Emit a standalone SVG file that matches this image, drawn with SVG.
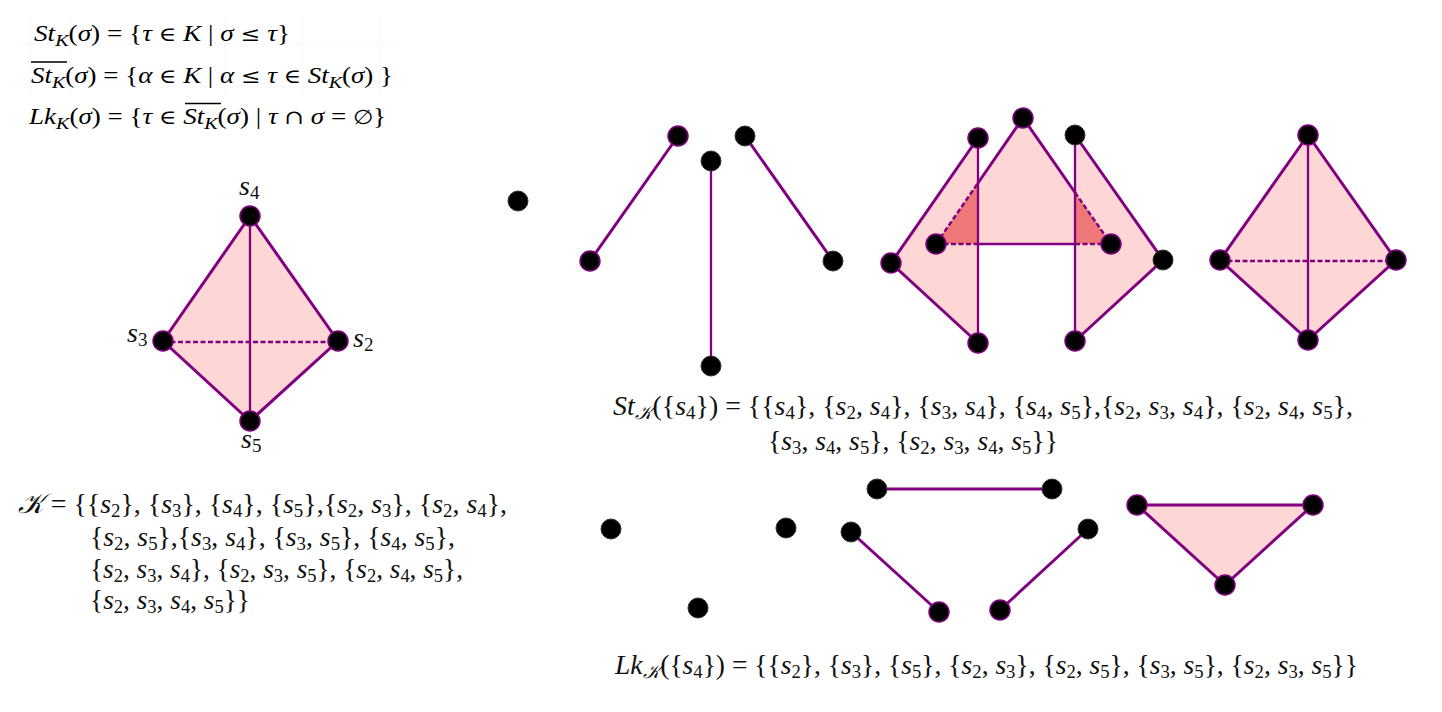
<svg xmlns="http://www.w3.org/2000/svg" width="1442" height="712" viewBox="0 0 1442 712">
<style>
.f{fill:#ffd6d6;stroke:none}
.d{fill:#ee7777;stroke:none}
.e{stroke:#800080;stroke-width:3;fill:none;stroke-linecap:round}
.t{stroke-width:2.300}
.h{stroke-width:2.500;stroke-dasharray:5 2.500;stroke-linecap:butt}
.n{fill:#000;stroke:#800080;stroke-width:1.500}
.g{fill:#000;stroke:#333;stroke-width:1}
.m{font-family:"Liberation Serif",serif;font-size:28px;fill:#111}
.c{font-family:"Liberation Serif",serif;font-size:23px;fill:#000}
.i{font-style:italic}
.s{font-size:19px}
.u{font-size:17px}
.o{font-family:"DejaVu Serif",serif;font-size:20px}
.b{stroke:#000;stroke-width:1.500}
.x{stroke:#f2f2f2;stroke-width:1;stroke-dasharray:1 1}
</style>
<g id="grid">
<path class="x" d="M20 44H396M20 87H396M30 15V96M70 15V96M225 15V96M302 15V96M379 15V96"/>
</g>
<g id="formulas">
<text class="c" x="34" y="41" textLength="256" lengthAdjust="spacingAndGlyphs"><tspan class="i">St</tspan><tspan class="i u" dy="5">K</tspan><tspan dy="-5">(</tspan><tspan class="i">σ</tspan>) = {<tspan class="i">τ</tspan> <tspan class="o">∈</tspan> <tspan class="i">K</tspan> | <tspan class="i">σ</tspan> <tspan class="o">≤</tspan> <tspan class="i">τ</tspan>}</text>
<text class="c" x="31" y="83" textLength="362" lengthAdjust="spacingAndGlyphs"><tspan class="i">St</tspan><tspan class="i u" dy="5">K</tspan><tspan dy="-5">(</tspan><tspan class="i">σ</tspan>) = {<tspan class="i">α</tspan> <tspan class="o">∈</tspan> <tspan class="i">K</tspan> | <tspan class="i">α</tspan> <tspan class="o">≤</tspan> <tspan class="i">τ</tspan> <tspan class="o">∈</tspan> <tspan class="i">St</tspan><tspan class="i u" dy="5">K</tspan><tspan dy="-5">(</tspan><tspan class="i">σ</tspan>) }</text>
<text class="c" x="29" y="124" textLength="357" lengthAdjust="spacingAndGlyphs"><tspan class="i">Lk</tspan><tspan class="i u" dy="5">K</tspan><tspan dy="-5">(</tspan><tspan class="i">σ</tspan>) = {<tspan class="i">τ</tspan> <tspan class="o">∈</tspan> <tspan class="i">St</tspan><tspan class="i u" dy="5">K</tspan><tspan dy="-5">(</tspan><tspan class="i">σ</tspan>) | <tspan class="i">τ</tspan> <tspan class="o">∩</tspan> <tspan class="i">σ</tspan> = <tspan class="o">∅</tspan>}</text>
<path class="b" d="M31 62H67M185 103.500H221"/>
</g>
<g id="faces">
<path class="f" d="M250 216L338 341L250 421L163 341Z"/>
<path class="f" d="M978 138L891 263L978 343Z"/>
<path class="f" d="M1023 118L936 244H1111Z"/>
<path class="f" d="M1075 135L1163 260L1075 341Z"/>
<path class="d" d="M936 244L978 183V244Z"/>
<path class="d" d="M1075 192.500L1111 244H1075Z"/>
<path class="f" d="M1308 135L1396 260L1308 340L1220 260Z"/>
<path class="f" d="M1137 505H1313L1225 585Z"/>
</g>
<g id="connectors">
<path class="e" d="M250 216L338 341L250 421L163 341Z"/>
<path class="e t" d="M250 216V421"/>
<path class="e h" d="M163 342H338"/>
<path class="e" d="M678 136L590 261"/>
<path class="e t" d="M711 161V366"/>
<path class="e" d="M745 136L833 261"/>
<path class="e" d="M978 138L891 263L978 343"/>
<path class="e t" d="M978 138V343"/>
<path class="e" d="M978 183L1023 118L1075 192.500"/>
<path class="e h" d="M936 244L978 183"/>
<path class="e h" d="M1075 192.500L1111 244"/>
<path class="e h" d="M936 244H978"/>
<path class="e t" d="M978 244H1075"/>
<path class="e h" d="M1075 244H1111"/>
<path class="e" d="M1075 135L1163 260L1075 341"/>
<path class="e t" d="M1075 135V341"/>
<path class="e" d="M1308 135L1396 260L1308 340L1220 260Z"/>
<path class="e t" d="M1308 135V340"/>
<path class="e h" d="M1220 261H1396"/>
<path class="e" d="M877 489H1052"/>
<path class="e" d="M851 532L939 612"/>
<path class="e" d="M1088 529L1000 610"/>
<path class="e" d="M1137 505H1313L1225 585Z"/>
</g>
<g id="node-s4"><circle class="n" cx="250" cy="216" r="10"/></g>
<g id="node-s3"><circle class="n" cx="163" cy="341" r="10"/></g>
<g id="node-s2"><circle class="n" cx="338" cy="341" r="10"/></g>
<g id="node-s5"><circle class="n" cx="250" cy="421" r="10"/></g>
<g id="node-a1"><circle class="g" cx="518" cy="201" r="10"/></g>
<g id="node-b1"><circle class="n" cx="678" cy="136" r="10"/></g>
<g id="node-b2"><circle class="n" cx="590" cy="261" r="10"/></g>
<g id="node-b3"><circle class="g" cx="711" cy="161" r="10"/></g>
<g id="node-b4"><circle class="g" cx="711" cy="366" r="10"/></g>
<g id="node-b5"><circle class="g" cx="745" cy="136" r="10"/></g>
<g id="node-b6"><circle class="g" cx="833" cy="261" r="10"/></g>
<g id="node-c1"><circle class="n" cx="978" cy="138" r="10"/></g>
<g id="node-c2"><circle class="n" cx="891" cy="263" r="10"/></g>
<g id="node-c3"><circle class="n" cx="978" cy="343" r="10"/></g>
<g id="node-c4"><circle class="n" cx="1023" cy="118" r="10"/></g>
<g id="node-c5"><circle class="n" cx="936" cy="244" r="10"/></g>
<g id="node-c6"><circle class="n" cx="1111" cy="244" r="10"/></g>
<g id="node-c7"><circle class="g" cx="1075" cy="135" r="10"/></g>
<g id="node-c8"><circle class="g" cx="1163" cy="260" r="10"/></g>
<g id="node-c9"><circle class="n" cx="1075" cy="341" r="10"/></g>
<g id="node-d1"><circle class="n" cx="1308" cy="135" r="10"/></g>
<g id="node-d2"><circle class="n" cx="1220" cy="260" r="10"/></g>
<g id="node-d3"><circle class="n" cx="1396" cy="260" r="10"/></g>
<g id="node-d4"><circle class="n" cx="1308" cy="340" r="10"/></g>
<g id="node-e1"><circle class="g" cx="611" cy="529" r="10"/></g>
<g id="node-e2"><circle class="g" cx="786" cy="528" r="10"/></g>
<g id="node-e3"><circle class="g" cx="698" cy="608" r="10"/></g>
<g id="node-f1"><circle class="g" cx="877" cy="489" r="10"/></g>
<g id="node-f2"><circle class="g" cx="1052" cy="489" r="10"/></g>
<g id="node-f3"><circle class="g" cx="851" cy="532" r="10"/></g>
<g id="node-f4"><circle class="n" cx="939" cy="612" r="10"/></g>
<g id="node-f5"><circle class="g" cx="1088" cy="529" r="10"/></g>
<g id="node-f6"><circle class="n" cx="1000" cy="610" r="10"/></g>
<g id="node-g1"><circle class="n" cx="1137" cy="505" r="10"/></g>
<g id="node-g2"><circle class="n" cx="1313" cy="505" r="10"/></g>
<g id="node-g3"><circle class="n" cx="1225" cy="585" r="10"/></g>
<g id="labels">
<text class="m" x="239" y="195"><tspan class="i">s</tspan><tspan class="s" dy="4">4</tspan></text>
<text class="m" x="127" y="342"><tspan class="i">s</tspan><tspan class="s" dy="4">3</tspan></text>
<text class="m" x="353" y="347"><tspan class="i">s</tspan><tspan class="s" dy="4">2</tspan></text>
<text class="m" x="241" y="448"><tspan class="i">s</tspan><tspan class="s" dy="4">5</tspan></text>
</g>
<g id="complex">
<text class="m" x="18" y="513" textLength="489" lengthAdjust="spacingAndGlyphs"><tspan class="i">𝒦</tspan> = {{<tspan class="i">s</tspan><tspan class="s" dy="4">2</tspan><tspan dy="-4">}, {</tspan><tspan class="i">s</tspan><tspan class="s" dy="4">3</tspan><tspan dy="-4">}, {</tspan><tspan class="i">s</tspan><tspan class="s" dy="4">4</tspan><tspan dy="-4">}, {</tspan><tspan class="i">s</tspan><tspan class="s" dy="4">5</tspan><tspan dy="-4">},{</tspan><tspan class="i">s</tspan><tspan class="s" dy="4">2</tspan><tspan dy="-4">, </tspan><tspan class="i">s</tspan><tspan class="s" dy="4">3</tspan><tspan dy="-4">}, {</tspan><tspan class="i">s</tspan><tspan class="s" dy="4">2</tspan><tspan dy="-4">, </tspan><tspan class="i">s</tspan><tspan class="s" dy="4">4</tspan><tspan dy="-4">},</tspan></text>
<text class="m" x="90" y="546" textLength="365" lengthAdjust="spacingAndGlyphs">{<tspan class="i">s</tspan><tspan class="s" dy="4">2</tspan><tspan dy="-4">, </tspan><tspan class="i">s</tspan><tspan class="s" dy="4">5</tspan><tspan dy="-4">},{</tspan><tspan class="i">s</tspan><tspan class="s" dy="4">3</tspan><tspan dy="-4">, </tspan><tspan class="i">s</tspan><tspan class="s" dy="4">4</tspan><tspan dy="-4">}, {</tspan><tspan class="i">s</tspan><tspan class="s" dy="4">3</tspan><tspan dy="-4">, </tspan><tspan class="i">s</tspan><tspan class="s" dy="4">5</tspan><tspan dy="-4">}, {</tspan><tspan class="i">s</tspan><tspan class="s" dy="4">4</tspan><tspan dy="-4">, </tspan><tspan class="i">s</tspan><tspan class="s" dy="4">5</tspan><tspan dy="-4">},</tspan></text>
<text class="m" x="90" y="578" textLength="373" lengthAdjust="spacingAndGlyphs">{<tspan class="i">s</tspan><tspan class="s" dy="4">2</tspan><tspan dy="-4">, </tspan><tspan class="i">s</tspan><tspan class="s" dy="4">3</tspan><tspan dy="-4">, </tspan><tspan class="i">s</tspan><tspan class="s" dy="4">4</tspan><tspan dy="-4">}, {</tspan><tspan class="i">s</tspan><tspan class="s" dy="4">2</tspan><tspan dy="-4">, </tspan><tspan class="i">s</tspan><tspan class="s" dy="4">3</tspan><tspan dy="-4">, </tspan><tspan class="i">s</tspan><tspan class="s" dy="4">5</tspan><tspan dy="-4">}, {</tspan><tspan class="i">s</tspan><tspan class="s" dy="4">2</tspan><tspan dy="-4">, </tspan><tspan class="i">s</tspan><tspan class="s" dy="4">4</tspan><tspan dy="-4">, </tspan><tspan class="i">s</tspan><tspan class="s" dy="4">5</tspan><tspan dy="-4">},</tspan></text>
<text class="m" x="90" y="609" textLength="160" lengthAdjust="spacingAndGlyphs">{<tspan class="i">s</tspan><tspan class="s" dy="4">2</tspan><tspan dy="-4">, </tspan><tspan class="i">s</tspan><tspan class="s" dy="4">3</tspan><tspan dy="-4">, </tspan><tspan class="i">s</tspan><tspan class="s" dy="4">4</tspan><tspan dy="-4">, </tspan><tspan class="i">s</tspan><tspan class="s" dy="4">5</tspan><tspan dy="-4">}}</tspan></text>
</g>
<g id="star">
<text class="m" x="613" y="415" textLength="740" lengthAdjust="spacingAndGlyphs"><tspan class="i">St</tspan><tspan class="i s" dy="4">𝒦</tspan><tspan dy="-4">({</tspan><tspan class="i">s</tspan><tspan class="s" dy="4">4</tspan><tspan dy="-4">}) = {{</tspan><tspan class="i">s</tspan><tspan class="s" dy="4">4</tspan><tspan dy="-4">}, {</tspan><tspan class="i">s</tspan><tspan class="s" dy="4">2</tspan><tspan dy="-4">, </tspan><tspan class="i">s</tspan><tspan class="s" dy="4">4</tspan><tspan dy="-4">}, {</tspan><tspan class="i">s</tspan><tspan class="s" dy="4">3</tspan><tspan dy="-4">, </tspan><tspan class="i">s</tspan><tspan class="s" dy="4">4</tspan><tspan dy="-4">}, {</tspan><tspan class="i">s</tspan><tspan class="s" dy="4">4</tspan><tspan dy="-4">, </tspan><tspan class="i">s</tspan><tspan class="s" dy="4">5</tspan><tspan dy="-4">},{</tspan><tspan class="i">s</tspan><tspan class="s" dy="4">2</tspan><tspan dy="-4">, </tspan><tspan class="i">s</tspan><tspan class="s" dy="4">3</tspan><tspan dy="-4">, </tspan><tspan class="i">s</tspan><tspan class="s" dy="4">4</tspan><tspan dy="-4">}, {</tspan><tspan class="i">s</tspan><tspan class="s" dy="4">2</tspan><tspan dy="-4">, </tspan><tspan class="i">s</tspan><tspan class="s" dy="4">4</tspan><tspan dy="-4">, </tspan><tspan class="i">s</tspan><tspan class="s" dy="4">5</tspan><tspan dy="-4">},</tspan></text>
<text class="m" x="768" y="450" textLength="290" lengthAdjust="spacingAndGlyphs">{<tspan class="i">s</tspan><tspan class="s" dy="4">3</tspan><tspan dy="-4">, </tspan><tspan class="i">s</tspan><tspan class="s" dy="4">4</tspan><tspan dy="-4">, </tspan><tspan class="i">s</tspan><tspan class="s" dy="4">5</tspan><tspan dy="-4">}, {</tspan><tspan class="i">s</tspan><tspan class="s" dy="4">2</tspan><tspan dy="-4">, </tspan><tspan class="i">s</tspan><tspan class="s" dy="4">3</tspan><tspan dy="-4">, </tspan><tspan class="i">s</tspan><tspan class="s" dy="4">4</tspan><tspan dy="-4">, </tspan><tspan class="i">s</tspan><tspan class="s" dy="4">5</tspan><tspan dy="-4">}}</tspan></text>
</g>
<g id="link">
<text class="m" x="615" y="674" textLength="743" lengthAdjust="spacingAndGlyphs"><tspan class="i">Lk</tspan><tspan class="i s" dy="4">𝒦</tspan><tspan dy="-4">({</tspan><tspan class="i">s</tspan><tspan class="s" dy="4">4</tspan><tspan dy="-4">}) = {{</tspan><tspan class="i">s</tspan><tspan class="s" dy="4">2</tspan><tspan dy="-4">}, {</tspan><tspan class="i">s</tspan><tspan class="s" dy="4">3</tspan><tspan dy="-4">}, {</tspan><tspan class="i">s</tspan><tspan class="s" dy="4">5</tspan><tspan dy="-4">}, {</tspan><tspan class="i">s</tspan><tspan class="s" dy="4">2</tspan><tspan dy="-4">, </tspan><tspan class="i">s</tspan><tspan class="s" dy="4">3</tspan><tspan dy="-4">}, {</tspan><tspan class="i">s</tspan><tspan class="s" dy="4">2</tspan><tspan dy="-4">, </tspan><tspan class="i">s</tspan><tspan class="s" dy="4">5</tspan><tspan dy="-4">}, {</tspan><tspan class="i">s</tspan><tspan class="s" dy="4">3</tspan><tspan dy="-4">, </tspan><tspan class="i">s</tspan><tspan class="s" dy="4">5</tspan><tspan dy="-4">}, {</tspan><tspan class="i">s</tspan><tspan class="s" dy="4">2</tspan><tspan dy="-4">, </tspan><tspan class="i">s</tspan><tspan class="s" dy="4">3</tspan><tspan dy="-4">, </tspan><tspan class="i">s</tspan><tspan class="s" dy="4">5</tspan><tspan dy="-4">}}</tspan></text>
</g>
</svg>
